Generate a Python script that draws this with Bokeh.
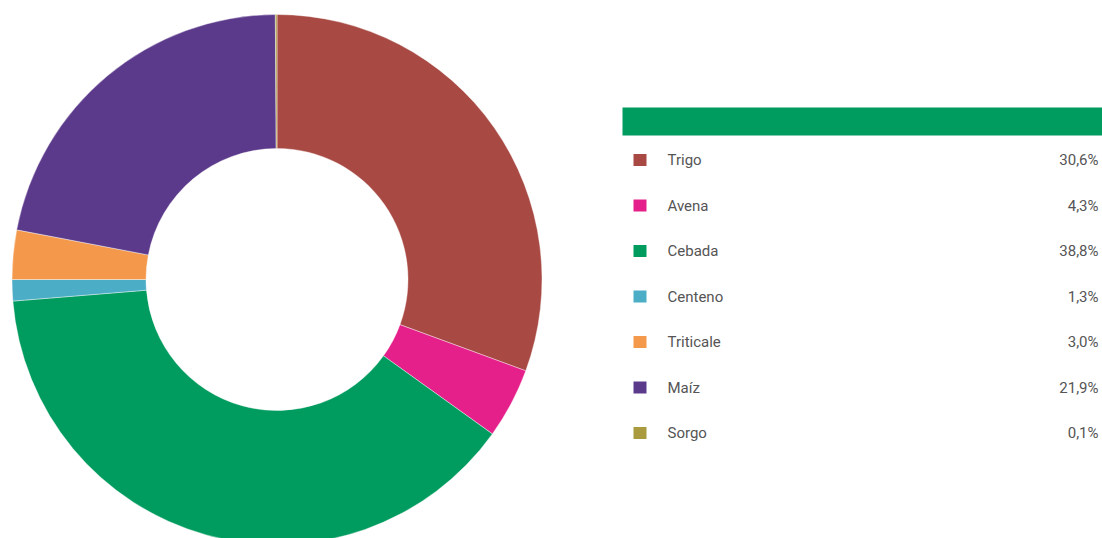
import math
from bokeh.plotting import figure
from bokeh.models import Range1d, ColumnDataSource
from bokeh.embed import file_html
from bokeh.resources import INLINE
from bokeh.core.properties import value

categories = ["Trigo", "Avena", "Cebada", "Centeno", "Triticale", "Maíz", "Sorgo"]
shares = [30.6, 4.3, 38.8, 1.3, 3.0, 21.9, 0.1]
labels = ["30,6%", "4,3%", "38,8%", "1,3%", "3,0%", "21,9%", "0,1%"]
colors = ["#A84A43", "#E5208A", "#009B5E", "#4BADC6", "#F4994C", "#5C3A8B", "#A99B3E"]

W, H = 1102, 538
p = figure(width=W, height=H, output_backend="svg", toolbar_location=None,
           x_range=Range1d(0, W), y_range=Range1d(0, H), min_border=0)
p.axis.visible = False
p.grid.visible = False
p.outline_line_color = None
p.background_fill_color = "white"
p.border_fill_color = "white"

def py(page_y):
    return H - page_y

total = sum(shares)
starts, ends = [], []
cum = 0.0
for s in shares:
    starts.append(math.pi / 2 - 2 * math.pi * cum / total)
    cum += s
    ends.append(math.pi / 2 - 2 * math.pi * cum / total)

src = ColumnDataSource(dict(start=starts, end=ends, color=colors,
                            x=[276.5] * len(shares), y=[py(279)] * len(shares)))
p.annular_wedge(x="x", y="y", inner_radius=131, outer_radius=265,
                start_angle="start", end_angle="end", direction="clock",
                fill_color="color", line_color="white", line_width=0.4, source=src)

# legend header bar
p.quad(left=[622], right=[1102], top=[py(107)], bottom=[py(135)],
       fill_color="#009B5E", line_color=None)

row_y = [py(159.5 + i * 45.5) for i in range(len(categories))]
p.rect(x=[639.5] * len(categories), y=row_y, width=13, height=12,
       fill_color=colors, line_color=None)
p.text(x=[667] * len(categories), y=row_y, text=categories,
       text_font=value("Roboto"), text_font_size="15px", text_color="#555555",
       text_baseline="middle", text_align="left")
p.text(x=[1098] * len(categories), y=row_y, text=labels,
       text_font=value("Roboto"), text_font_size="15px", text_color="#555555",
       text_baseline="middle", text_align="right")

open("out.html", "w").write(file_html(p, INLINE))
